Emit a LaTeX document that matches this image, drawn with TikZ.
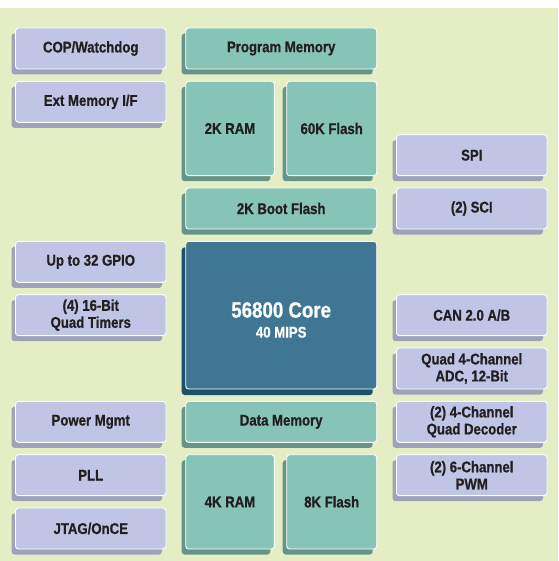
\documentclass[tikz,border=0pt]{standalone}
\usepackage{fontspec}
\setmainfont{Liberation Sans}[FakeStretch=0.85,BoldFeatures={FakeBold=0.8}]
\usetikzlibrary{shadows}
\definecolor{bgc}{RGB}{229,237,196}
\definecolor{lav}{RGB}{192,197,229}
\definecolor{lavsh}{RGB}{160,162,186}
\definecolor{tealbox}{RGB}{134,196,183}
\definecolor{tealsh}{RGB}{102,148,136}
\definecolor{corec}{RGB}{62,118,148}
\definecolor{coresh}{RGB}{30,80,105}
\definecolor{txt}{RGB}{35,31,32}
\begin{document}
\begin{tikzpicture}[x=1pt,y=-1pt,
  box/.style={draw=white, line width=0.9pt, rounded corners=3pt, inner sep=0pt,
    align=center, font=\fontsize{15.5}{17}\selectfont\bfseries, text=txt},
  per/.style={box, fill=lav, minimum width=150.5pt, minimum height=41pt,
    drop shadow={shadow xshift=-4pt, shadow yshift=-5.5pt, fill=lavsh, opacity=1}},
  mem/.style={box, fill=tealbox, minimum height=41pt,
    drop shadow={shadow xshift=-4pt, shadow yshift=-5.5pt, fill=tealsh, opacity=1}},
  corebox/.style={box, fill=corec, text=white, minimum width=191pt, minimum height=147.7pt,
    drop shadow={shadow xshift=-4pt, shadow yshift=-6pt, fill=coresh, opacity=1}}
]
\useasboundingbox (0,0) rectangle (558,561);
\fill[white] (0,0) rectangle (558,561);
\fill[bgc] (0,8) rectangle (558,561);

% left column
\node[per] (cop)   at (90.75,48.5)   {COP/Watchdog};
\node[per] (ext)   at (90.75,101.83) {Ext Memory I/F};
\node[per] (gpio)  at (90.75,261.83) {Up to 32 GPIO};
\node[per] (tmr)   at (90.75,315.17) {(4) 16-Bit\\Quad Timers};
\node[per] (pwr)   at (90.75,421.83) {Power Mgmt};
\node[per] (pll)   at (90.75,475.17) {PLL};
\node[per] (jtag)  at (90.75,528.5)  {JTAG/OnCE};

% middle column
\node[mem, minimum width=191pt] (pmem) at (281.2,48.5) {Program Memory};
\node[mem, minimum width=88.6pt, minimum height=94.4pt] (ram2) at (230,128.5) {2K RAM};
\node[mem, minimum width=90pt, minimum height=94.4pt] (fl60) at (331.7,128.5) {60K Flash};
\node[mem, minimum width=191pt] (boot) at (281.2,208.5) {2K Boot Flash};
\node[corebox] (core) at (281.2,315.17)
  {{\fontsize{22}{24}\selectfont\rule{0pt}{25pt}56800 Core}\\[3pt]{\fontsize{15.5}{17}\selectfont 40 MIPS}};
\node[mem, minimum width=191pt] (dmem) at (281.2,421.83) {Data Memory};
\node[mem, minimum width=88.6pt, minimum height=94.3pt] (ram4) at (230,501.85) {4K RAM};
\node[mem, minimum width=90pt, minimum height=94.3pt] (fl8) at (331.7,501.85) {8K Flash};

% right column
\node[per] (spi)  at (471.75,155.17) {SPI};
\node[per] (sci)  at (471.75,208.5)  {(2) SCI};
\node[per] (can)  at (471.75,315.17) {CAN 2.0 A/B};
\node[per] (adc)  at (471.75,368.5)  {Quad 4-Channel\\ADC, 12-Bit};
\node[per] (dec)  at (471.75,421.83) {(2) 4-Channel\\Quad Decoder};
\node[per] (pwm)  at (471.75,475.17) {(2) 6-Channel\\PWM};
\end{tikzpicture}
\end{document}
